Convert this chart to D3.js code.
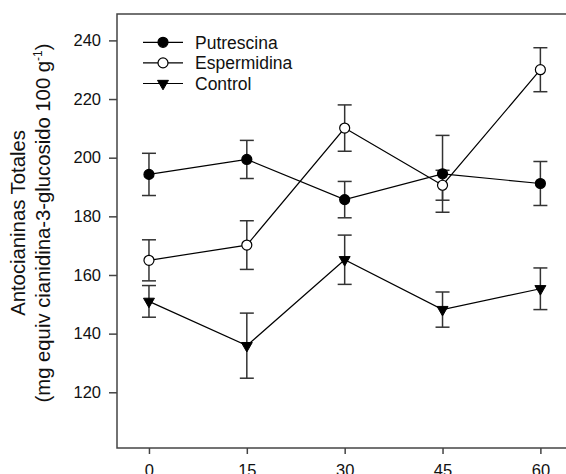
<!DOCTYPE html>
<html>
<head>
<meta charset="utf-8">
<script src="https://cdn.jsdelivr.net/npm/d3@7"></script>
<style>
  body { margin: 0; background: #fff; }
  svg { display: block; font-family: "Liberation Sans", Arial, sans-serif; }
</style>
</head>
<body>
<div id="chart"></div>
<script>
var svgWidth = 566;
var svgHeight = 474;

// data (days vs anthocyanins)
var days = [0, 15, 30, 45, 60];
var putrescina = [194.3, 199.4, 185.7, 194.5, 191.2];
var putrescinaErr = [7.2, 6.5, 6.2, 13.1, 7.5];
var espermidina = [165.0, 170.2, 210.1, 190.6, 230.0];
var espermidinaErr = [7.0, 8.3, 7.9, 5.1, 7.5];
var control = [151.0, 135.9, 165.2, 148.2, 155.3];
var controlErr = [5.4, 11.1, 8.4, 6.0, 7.1];
var xTicks = [0, 15, 30, 45, 60];
var yTicks = [120, 140, 160, 180, 200, 220, 240];
var seriesNames = ["Putrescina", "Espermidina", "Control"];

var plotLeft = 117, plotTop = 14, plotBottom = 448, plotRight = 573;

var svg = d3.select("#chart")
  .append("svg")
  .attr("width", svgWidth)
  .attr("height", svgHeight);

var scaleX = d3.scaleLinear().domain([-4.9, 65]).range([plotLeft, plotRight]);
var scaleY = d3.scaleLinear().domain([101, 249]).range([plotBottom, plotTop]);

// frame
svg.append("rect")
  .attr("x", plotLeft)
  .attr("y", plotTop)
  .attr("width", plotRight - plotLeft)
  .attr("height", plotBottom - plotTop)
  .attr("fill", "none")
  .attr("stroke", "#444")
  .attr("stroke-width", 1.5);

var xaxis = d3.axisBottom(scaleX)
  .tickValues(xTicks)
  .tickSize(6)
  .tickPadding(10)
  .tickSizeOuter(0);
var yaxis = d3.axisLeft(scaleY)
  .tickValues(yTicks)
  .tickSize(8)
  .tickPadding(8)
  .tickSizeOuter(0);

var gx = svg.append("g")
  .attr("transform", `translate(0, ${plotBottom})`)
  .call(xaxis);
var gy = svg.append("g")
  .attr("transform", `translate(${plotLeft}, 0)`)
  .call(yaxis);

[gx, gy].forEach(function(g) {
  g.select(".domain").remove();
  g.selectAll(".tick line").attr("stroke", "#444").attr("stroke-width", 1.5);
  g.selectAll(".tick text")
    .attr("font-size", "16.5px")
    .attr("font-family", "Liberation Sans, Arial, sans-serif")
    .attr("fill", "#111");
});

// y label
var ylab = svg.append("g")
  .attr("transform", "translate(0, 223) rotate(-90)");
ylab.append("text")
  .attr("x", 0)
  .attr("y", 24.5)
  .attr("text-anchor", "middle")
  .attr("font-size", "20.3px")
  .attr("fill", "#111")
  .text("Antocianinas Totales");
var t2 = ylab.append("text")
  .attr("x", 0)
  .attr("y", 50)
  .attr("text-anchor", "middle")
  .attr("font-size", "20.3px")
  .attr("fill", "#111");
t2.append("tspan").text("(mg equiv cianidina-3-glucosido 100 g");
t2.append("tspan").attr("font-size", "12px").attr("dy", -8).text("-1");
t2.append("tspan").attr("dy", 8).text(")");

var series = [
  { name: seriesNames[0], vals: putrescina, err: putrescinaErr, kind: "circle", fill: "#000" },
  { name: seriesNames[1], vals: espermidina, err: espermidinaErr, kind: "circle", fill: "#fff" },
  { name: seriesNames[2], vals: control, err: controlErr, kind: "tri", fill: "#000" }
];

var line = d3.line()
  .x(d => scaleX(d.x))
  .y(d => scaleY(d.y));

var triangle = d3.symbol().type(d3.symbolTriangle).size(52);

function drawMarker(g, kind, fill) {
  if (kind === "circle") {
    g.append("circle")
      .attr("r", 5)
      .attr("fill", fill)
      .attr("stroke", "#000")
      .attr("stroke-width", 1.2);
  } else {
    g.append("path")
      .attr("d", triangle())
      .attr("transform", "rotate(180)")
      .attr("fill", fill)
      .attr("stroke", "#000")
      .attr("stroke-width", 1);
  }
}

series.forEach(function(s) {
  var pts = days.map((d, i) => ({ x: d, y: s.vals[i], e: s.err[i] }));

  var eb = svg.append("g").selectAll("g")
    .data(pts)
    .enter()
    .append("g")
    .attr("stroke", "#333")
    .attr("stroke-width", 1.5);
  eb.append("line")
    .attr("x1", d => scaleX(d.x)).attr("x2", d => scaleX(d.x))
    .attr("y1", d => scaleY(d.y + d.e)).attr("y2", d => scaleY(d.y - d.e));
  eb.append("line")
    .attr("x1", d => scaleX(d.x) - 7).attr("x2", d => scaleX(d.x) + 7)
    .attr("y1", d => scaleY(d.y + d.e)).attr("y2", d => scaleY(d.y + d.e));
  eb.append("line")
    .attr("x1", d => scaleX(d.x) - 7).attr("x2", d => scaleX(d.x) + 7)
    .attr("y1", d => scaleY(d.y - d.e)).attr("y2", d => scaleY(d.y - d.e));

  svg.append("path")
    .datum(pts)
    .attr("d", line)
    .attr("fill", "none")
    .attr("stroke", "#000")
    .attr("stroke-width", 1.2);

  s.pts = pts;
});

series.forEach(function(s) {
  svg.append("g").selectAll("g")
    .data(s.pts)
    .enter()
    .append("g")
    .attr("transform", d => `translate(${scaleX(d.x)}, ${scaleY(d.y)})`)
    .each(function() { drawMarker(d3.select(this), s.kind, s.fill); });
});

// legend
var legend = svg.append("g").attr("transform", "translate(143, 42.3)");
series.forEach(function(s, i) {
  var row = legend.append("g").attr("transform", `translate(0, ${i * 20.6})`);
  row.append("line")
    .attr("x1", 0).attr("x2", 40)
    .attr("y1", 0).attr("y2", 0)
    .attr("stroke", "#000")
    .attr("stroke-width", 1.2);
  var m = row.append("g").attr("transform", "translate(20, 0)");
  drawMarker(m, s.kind, s.fill);
  row.append("text")
    .attr("x", 52)
    .attr("y", 6.5)
    .attr("font-size", "17.5px")
    .attr("fill", "#111")
    .text(s.name);
});
</script>
</body>
</html>
